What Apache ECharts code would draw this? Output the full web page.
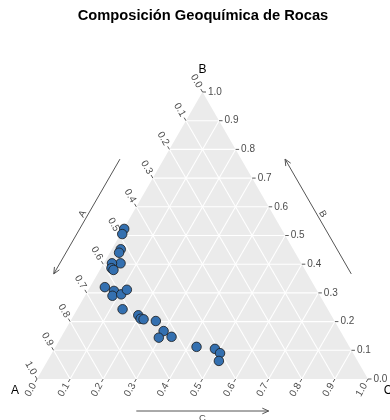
<!DOCTYPE html>
<html>
<head>
<meta charset="utf-8">
<script src="https://cdn.jsdelivr.net/npm/echarts@6/dist/echarts.min.js"></script>
<style>html,body{margin:0;padding:0;background:#fff}#c{width:390px;height:420px}</style>
</head>
<body>
<div id="c"></div>
<script>
// Composition data (A, B, C fractions)
const compA = [0.475,0.490,0.521,0.532,0.546,0.572,0.582,0.579,0.635,0.614,0.627,0.598,0.573,0.620,0.583,0.582,0.574,0.540,0.534,0.560,0.520,0.462,0.410,0.402,0.419];
const compB = [0.523,0.505,0.452,0.440,0.403,0.403,0.386,0.380,0.320,0.307,0.290,0.295,0.311,0.243,0.222,0.210,0.208,0.202,0.167,0.144,0.147,0.112,0.105,0.090,0.063];
const compC = [0.002,0.005,0.027,0.028,0.051,0.025,0.032,0.041,0.045,0.079,0.083,0.107,0.116,0.137,0.195,0.208,0.218,0.258,0.299,0.296,0.333,0.426,0.485,0.508,0.518];
const tickValues = [0,0.1,0.2,0.3,0.4,0.5,0.6,0.7,0.8,0.9,1.0];
const tickLabels = ['0.0','0.1','0.2','0.3','0.4','0.5','0.6','0.7','0.8','0.9','1.0'];
const vertexNames = ['A','B','C'];
const titleText = 'Composición Geoquímica de Rocas';

const S = Math.sqrt(3) / 2;
function tern(a, b, c) { const s = a + b + c; return [(c + b / 2) / s, (b * S) / s]; }

const points = compA.map((a, i) => tern(a, compB[i], compC[i]));

const FONT = 'Liberation Sans, Arial, sans-serif';

function renderFrame(params, api) {
  const P = (a, b, c) => api.coord(tern(a, b, c));
  const ch = [];
  const pa = P(1,0,0), pb = P(0,1,0), pc = P(0,0,1);
  ch.push({type:'polygon', shape:{points:[pa,pb,pc]}, style:{fill:'#EBEBEB'}});
  const line = (p, q, stroke, w) => ch.push({type:'line', shape:{x1:p[0],y1:p[1],x2:q[0],y2:q[1]}, style:{stroke:stroke, lineWidth:w}});
  for (let k = 1; k < tickValues.length - 1; k++) {
    const t = tickValues[k];
    line(P(1-t,t,0), P(0,t,1-t), '#FFFFFF', 1.1);
    line(P(1-t,0,t), P(0,1-t,t), '#FFFFFF', 1.1);
    line(P(t,1-t,0), P(t,0,1-t), '#FFFFFF', 1.1);
  }
  const text = (x, y, str, opts) => ch.push({type:'text', x:x, y:y, rotation:opts.rot||0,
    style:{text:str, fill:opts.fill||'#4D4D4D', font:(opts.weight||'normal')+' '+(opts.size||10)+'px '+FONT,
      align:opts.align||'center', verticalAlign:opts.va||'middle'}});
  const TL = 3.5, LG = 5.5;
  tickValues.forEach((t, k) => {
    // A axis (left edge)
    let p = P(t,1-t,0), d = [-0.5,-S];
    line(p, [p[0]+d[0]*TL, p[1]+d[1]*TL], '#333333', 0.8);
    text(p[0]+d[0]*LG, p[1]+d[1]*LG, tickLabels[k], {rot:-Math.PI/3, align:'right'});
    // C axis (bottom edge)
    p = P(1-t,0,t); d = [-0.5,S];
    line(p, [p[0]+d[0]*TL, p[1]+d[1]*TL], '#333333', 0.8);
    text(p[0]+d[0]*LG, p[1]+d[1]*LG, tickLabels[k], {rot:Math.PI/3, align:'right'});
    // B axis (right edge)
    p = P(0,t,1-t); d = [1,0];
    line(p, [p[0]+d[0]*TL, p[1]+d[1]*TL], '#333333', 0.8);
    text(p[0]+d[0]*LG, p[1]+d[1]*LG, tickLabels[k], {align:'left'});
  });
  // vertex labels
  text(pa[0]-22, pa[1]+12, vertexNames[0], {fill:'#000', size:12});
  text(pb[0], pb[1]-22, vertexNames[1], {fill:'#000', size:12});
  text(pc[0]+20, pc[1]+12, vertexNames[2], {fill:'#000', size:12});
  // arrows
  const arrow = (edge, f0, f1, n, off, label, rot, loff) => {
    const e0 = edge(f0), e1 = edge(f1);
    const s = [e0[0]+n[0]*off, e0[1]+n[1]*off], e = [e1[0]+n[0]*off, e1[1]+n[1]*off];
    line(s, e, '#555555', 1);
    const ang = Math.atan2(s[1]-e[1], s[0]-e[0]);
    [0.42, -0.42].forEach(da => {
      line(e, [e[0]+7*Math.cos(ang+da), e[1]+7*Math.sin(ang+da)], '#555555', 1);
    });
    const m = [(s[0]+e[0])/2 + n[0]*loff, (s[1]+e[1])/2 + n[1]*loff];
    text(m[0], m[1], label, {rot:rot, size:9.5, fill:'#4D4D4D'});
  };
  arrow(f => P(1-f,f,0), 0.7, 0.3, [-S,-0.5], 38, vertexNames[0], Math.PI/3, 5);
  arrow(f => P(0,f,1-f), 0.3, 0.7, [S,-0.5], 38, vertexNames[1], -Math.PI/3, 5);
  arrow(f => P(1-f,0,f), 0.3, 0.7, [0,1], 32, vertexNames[2], 0, 7);
  return {type:'group', children:ch};
}

const chart = echarts.init(document.getElementById('c'), null, {renderer:'canvas'});
chart.setOption({
  animation: false,
  graphic: [{type:'text', x:203, y:16, style:{text:titleText, font:'bold 14.7px '+FONT, fill:'#000', align:'center', verticalAlign:'middle'}}],
  grid: {left:37, right:22, top:92, bottom:41},
  xAxis: {type:'value', min:0, max:1, show:false},
  yAxis: {type:'value', min:0, max:S, show:false},
  series: [
    {type:'custom', data:[[0,0]], renderItem:renderFrame, clip:false, silent:true, z:1},
    {type:'scatter', data:points, symbolSize:9.5, z:5,
     itemStyle:{color:'#3470B0', borderColor:'#1A1A1A', borderWidth:0.8, opacity:1}}
  ]
});
</script>
</body>
</html>
